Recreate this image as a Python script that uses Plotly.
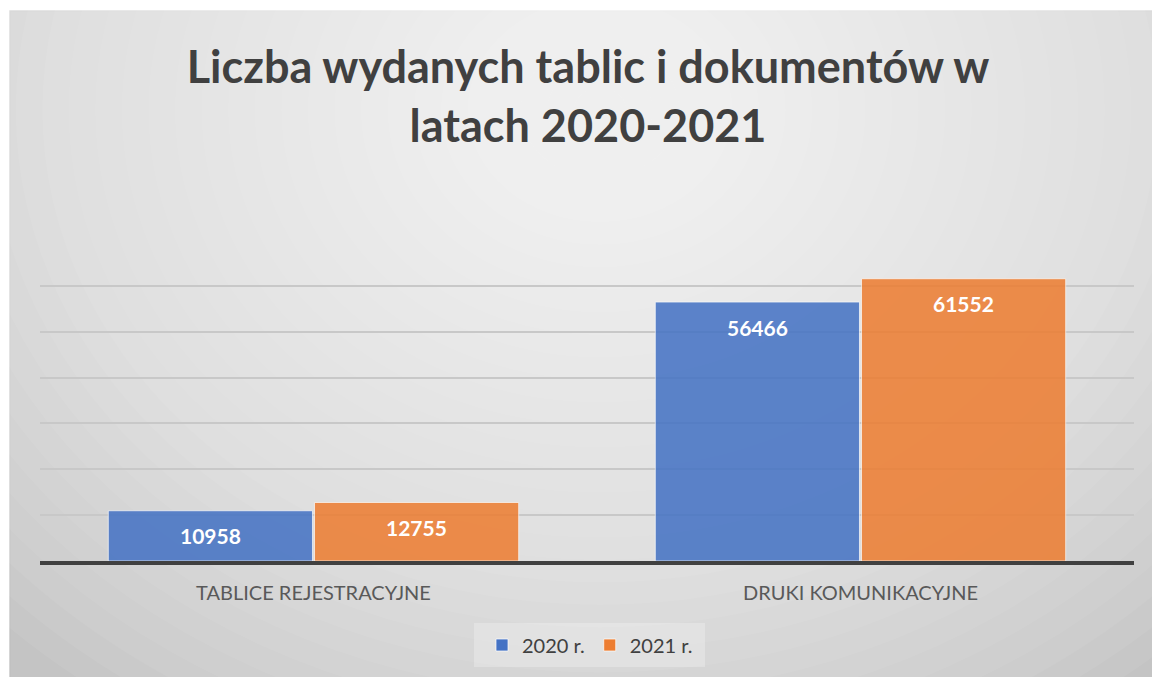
import plotly.graph_objects as go

categories = ["TABLICE REJESTRACYJNE", "DRUKI KOMUNIKACYJNE"]
series_names = ["2020 r.", "2021 r."]
values_2020 = [10958, 56466]
values_2021 = [12755, 61552]
colors = ["#4472C4", "#ED7D31"]

W, H = 1152, 677
# plot area in window pixels
PX0, PX1, PY0, PY1 = 40, 1134, 240, 561
L, R, T, B = PX0, W - PX1, PY0, H - PY1
PW, PH = W - L - R, H - T - B
BARGAP = 0.246

def px_x(px):
    return (px - PX0) / PW

def px_y(py):
    return (PY1 - py) / PH

fig = go.Figure()
for name, vals, col in zip(series_names, [values_2020, values_2021], colors):
    fig.add_trace(go.Bar(
        x=categories, y=vals, name=name,
        marker=dict(color=col, opacity=0.86, line=dict(color="rgba(255,255,255,0.7)", width=1)),
    ))

# data labels
off = (1 - BARGAP) / 4
annotations = []
for si, vals in enumerate([values_2020, values_2021]):
    for ci, v in enumerate(vals):
        annotations.append(dict(
            x=ci + (-off if si == 0 else off), y=v, xref="x", yref="y",
            text=f"<b>{v}</b>", showarrow=False, yanchor="middle", yshift=-25,
            font=dict(family="Lato", size=21, color="white"),
        ))

# background: gradient approximation
shapes = [dict(type="rect", xref="paper", yref="paper",
               x0=px_x(10), x1=px_x(1160), y0=px_y(11), y1=px_y(690),
               fillcolor="#c4c4c4", line=dict(color="#c0c0c0", width=1.5), layer="below")]
N = 32
cx, cy = 600, 110
for k in range(N, 0, -1):
    rx = 850 * k / N
    ry = 720 * k / N
    shapes.append(dict(type="circle", xref="paper", yref="paper",
                       x0=px_x(cx - rx), x1=px_x(cx + rx), y0=px_y(cy + ry), y1=px_y(cy - ry),
                       fillcolor="rgba(255,255,255,0.058)", line=dict(width=0), layer="below"))
# white outside the chart box (left and top)
shapes.append(dict(type="rect", xref="paper", yref="paper", x0=px_x(-50), x1=px_x(9.3), y0=px_y(-50), y1=px_y(720),
                   fillcolor="white", line=dict(width=0), layer="below"))
shapes.append(dict(type="rect", xref="paper", yref="paper", x0=px_x(-50), x1=px_x(1200), y0=px_y(-50), y1=px_y(10.3),
                   fillcolor="white", line=dict(width=0), layer="below"))
# legend box
shapes.append(dict(type="rect", xref="paper", yref="paper", x0=px_x(474), x1=px_x(705), y0=px_y(623), y1=px_y(667),
                   fillcolor="rgba(255,255,255,0.25)", line=dict(width=0), layer="below"))

fig.update_layout(
    width=W, height=H,
    margin=dict(l=L, r=R, t=T, b=B),
    paper_bgcolor="#cdcdcd", plot_bgcolor="rgba(0,0,0,0)",
    barmode="group", bargap=BARGAP, bargroupgap=0.01,
    title=dict(text="<b>Liczba wydanych tablic i dokumentów w<br>latach 2020-2021</b>",
               x=588 / W, xanchor="center", xref="container", y=1 - 83 / H, yanchor="middle",
               font=dict(family="Lato", size=45, color="#404040")),
    font=dict(family="Lato", color="#595959"),
    showlegend=True,
    legend=dict(orientation="h", x=px_x(590), xanchor="center", y=px_y(645), yanchor="middle",
                font=dict(size=20, color="#404040"), bgcolor="rgba(0,0,0,0)", traceorder="normal",
                itemwidth=30),
    annotations=annotations,
    shapes=shapes,
)
fig.update_xaxes(showline=True, linecolor="#404040", linewidth=4, ticks="outside", ticklen=11,
                 tickcolor="rgba(0,0,0,0)", tickfont=dict(size=20, color="#595959"), showgrid=False)
fig.update_yaxes(range=[0, 70000], dtick=10000, showticklabels=False, gridcolor="#c8c8c8",
                 gridwidth=1.5, zeroline=False, showline=False)

fig.write_html("out.html", config={"displayModeBar": False},
               post_script="document.body.style.margin='0';document.body.style.overflow='hidden';")
